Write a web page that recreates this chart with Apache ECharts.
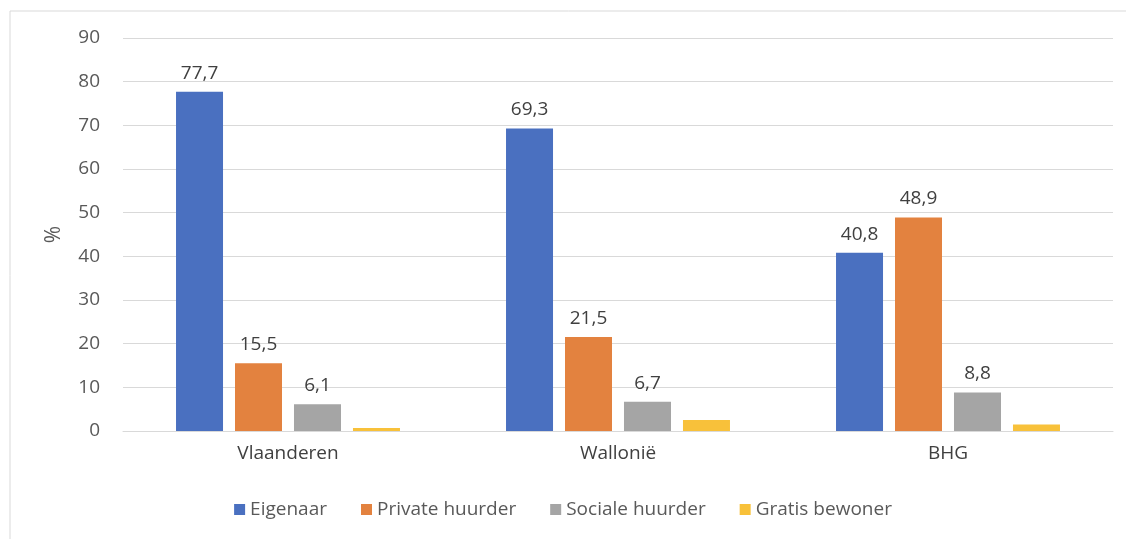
<!DOCTYPE html>
<html><head><meta charset="utf-8">
<script src="https://cdn.jsdelivr.net/npm/echarts@6/dist/echarts.min.js"></script>
<style>html,body{margin:0;padding:0;background:#fff}#c{width:1126px;height:539px}</style>
</head><body><div id="c"></div>
<script>
const categories = ['Vlaanderen', 'Wallonië', 'BHG'];
const eigenaar = [77.7, 69.3, 40.8];
const privateHuurder = [15.5, 21.5, 48.9];
const socialeHuurder = [6.1, 6.7, 8.8];
const gratisBewoner = [0.7, 2.5, 1.5];
const yTicks = { min: 0, max: 90, interval: 10 };

const chart = echarts.init(document.getElementById('c'));
const font = 'Open Sans, Liberation Sans, sans-serif';
const fmt = p => String(p.value).replace('.', ',');
function s(name, data, color, label) {
  return {
    name, type: 'bar', data, barWidth: 47, barGap: '25.5%',
    itemStyle: { color },
    label: { show: label, position: 'top', distance: 9, formatter: fmt, color: '#404040', fontSize: 19, fontFamily: font },
    emphasis: { disabled: true }
  };
}
chart.setOption({
  animation: false,
  graphic: [{ type: 'rect', shape: { x: 10, y: 11, width: 1130, height: 540 }, style: { fill: 'none', stroke: '#d9d9d9', lineWidth: 1 }, silent: true }],
  grid: { left: 123, right: 13, top: 38, bottom: 108 },
  legend: {
    bottom: 15, left: 'center', itemWidth: 11, itemHeight: 11, itemGap: 34, icon: 'rect',
    textStyle: { color: '#595959', fontSize: 19, fontFamily: font }
  },
  xAxis: {
    type: 'category', data: categories,
    axisLine: { lineStyle: { color: '#d9d9d9' } }, axisTick: { show: false },
    axisLabel: { color: '#404040', fontSize: 19, fontFamily: font, margin: 13 }
  },
  yAxis: {
    type: 'value', min: yTicks.min, max: yTicks.max, interval: yTicks.interval,
    name: '%', nameLocation: 'middle', nameGap: 58, nameRotate: 90,
    nameTextStyle: { color: '#595959', fontSize: 21, fontFamily: font },
    axisLine: { show: false }, axisTick: { show: false },
    axisLabel: { color: '#595959', fontSize: 19, fontFamily: font, margin: 23 },
    splitLine: { lineStyle: { color: '#d9d9d9' } }
  },
  series: [
    s('Eigenaar', eigenaar, '#4a70c0', true),
    s('Private huurder', privateHuurder, '#e3823f', true),
    s('Sociale huurder', socialeHuurder, '#a5a5a5', true),
    s('Gratis bewoner', gratisBewoner, '#f8c13a', false)
  ]
});
</script></body></html>
